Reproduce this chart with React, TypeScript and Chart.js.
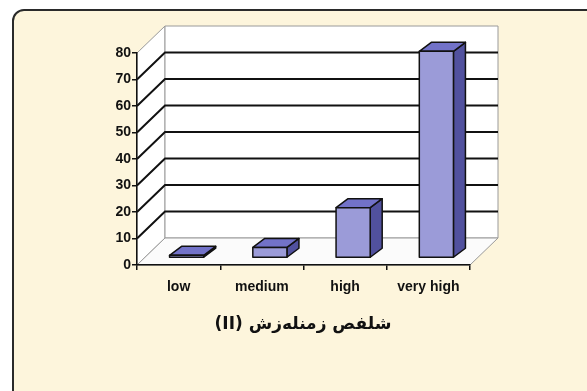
import React, { useEffect, useRef } from 'react';
import { Chart, registerables } from 'chart.js';
Chart.register(...registerables);

const categories = ['low', 'medium', 'high', 'very high'];
const values = [1, 4, 19, 78];
const yMin = 0;
const yMax = 80;
const yStep = 10;
const titleText = 'شلفص زمنلەزش (II)';

export default function App() {
  const ref = useRef<HTMLCanvasElement>(null);
  useEffect(() => {
    const canvas = ref.current!;
    const DX = 28, DY = -27;
    const BX = 8, BY = -7, BDX = 12, BDY = -9;
    const deco = {
      id: 'deco',
      beforeDraw(chart: any) {
        const { ctx, chartArea: a, scales } = chart;
        const y = scales.y;
        ctx.save();
        ctx.fillStyle = '#ffffff';
        ctx.fillRect(0, 0, chart.width, chart.height);
        ctx.beginPath();
        ctx.roundRect(13, 10, 600, 400, 11);
        ctx.fillStyle = '#fdf5dc';
        ctx.fill();
        ctx.lineWidth = 2;
        ctx.strokeStyle = '#2a2a2a';
        ctx.stroke();

        const L = a.left, R = a.right;
        const T = y.getPixelForValue(yMax), B = y.getPixelForValue(yMin);
        const poly = (pts: number[][], fill: string) => {
          ctx.beginPath();
          ctx.moveTo(pts[0][0], pts[0][1]);
          for (let i = 1; i < pts.length; i++) ctx.lineTo(pts[i][0], pts[i][1]);
          ctx.closePath();
          ctx.fillStyle = fill;
          ctx.fill();
          ctx.lineWidth = 1;
          ctx.strokeStyle = '#9a9a9a';
          ctx.stroke();
        };
        poly([[L, B], [L + DX, B + DY], [L + DX, T + DY], [L, T]], '#ffffff');
        poly([[L + DX, B + DY], [R + DX, B + DY], [R + DX, T + DY], [L + DX, T + DY]], '#ffffff');
        poly([[L, B], [R, B], [R + DX, B + DY], [L + DX, B + DY]], '#fbfbfb');

        ctx.strokeStyle = '#111111';
        ctx.lineWidth = 2;
        for (let v = yMin + yStep; v < yMax; v += yStep) {
          const py = y.getPixelForValue(v);
          ctx.beginPath();
          ctx.moveTo(L, py);
          ctx.lineTo(L + DX, py + DY);
          ctx.lineTo(R + DX, py + DY);
          ctx.stroke();
        }
        ctx.restore();
      },
      afterDatasetsDraw(chart: any) {
        const { ctx } = chart;
        const meta = chart.getDatasetMeta(0);
        ctx.save();
        ctx.lineWidth = 1.5;
        ctx.strokeStyle = '#111111';
        ctx.lineJoin = 'round';
        meta.data.forEach((el: any) => {
          const x0 = el.x - el.width / 2 + BX;
          const x1 = el.x + el.width / 2 + BX;
          const top = el.y + BY;
          const bot = el.base + BY;
          const face = (pts: number[][], fill: string) => {
            ctx.beginPath();
            ctx.moveTo(pts[0][0], pts[0][1]);
            for (let i = 1; i < pts.length; i++) ctx.lineTo(pts[i][0], pts[i][1]);
            ctx.closePath();
            ctx.fillStyle = fill;
            ctx.fill();
            ctx.stroke();
          };
          face([[x1, bot], [x1 + BDX, bot + BDY], [x1 + BDX, top + BDY], [x1, top]], '#51519e');
          face([[x0, top], [x1, top], [x1 + BDX, top + BDY], [x0 + BDX, top + BDY]], '#7272c8');
          face([[x0, top], [x1, top], [x1, bot], [x0, bot]], '#9b9bd8');
        });
        ctx.restore();
      },
      afterDraw(chart: any) {
        const { ctx } = chart;
        ctx.save();
        ctx.direction = 'rtl';
        ctx.textAlign = 'center';
        ctx.textBaseline = 'middle';
        ctx.fillStyle = '#111111';
        ctx.font = 'bold 17px "DejaVu Sans"';
        ctx.fillText(titleText, 303, 325);
        ctx.restore();
      },
    };

    const chart = new Chart(canvas, {
      type: 'bar',
      data: {
        labels: categories,
        datasets: [
          {
            data: values,
            backgroundColor: 'rgba(0,0,0,0)',
            borderWidth: 0,
            barPercentage: 0.41,
            categoryPercentage: 1,
          },
        ],
      },
      options: {
        responsive: false,
        animation: false,
        events: [],
        layout: { padding: { top: 53, right: 117, left: 0, bottom: 0 } },
        plugins: { legend: { display: false }, tooltip: { enabled: false }, title: { display: false } },
        scales: {
          x: {
            afterFit: (s: any) => { s.height = 126; },
            grid: { display: true, drawOnChartArea: false, tickLength: 5, color: '#111', lineWidth: 1.5, offset: true },
            border: { display: true, color: '#111', width: 1.5 },
            ticks: { color: '#111', padding: 9, font: { family: '"Liberation Sans"', size: 14, weight: 'bold' } },
          },
          y: {
            min: yMin,
            max: yMax,
            afterFit: (s: any) => { s.width = 137; },
            grid: { display: true, drawOnChartArea: false, tickLength: 5, color: '#111', lineWidth: 1.5 },
            border: { display: true, color: '#111', width: 1.5 },
            ticks: { stepSize: yStep, color: '#111', padding: 1, font: { family: '"Liberation Sans"', size: 14, weight: 'bold' } },
          },
        },
      },
      plugins: [deco],
    } as any);
    return () => chart.destroy();
  }, []);
  return (
    <div style={{ position: 'fixed', left: 0, top: 0, width: 587, height: 391 }}>
      <canvas ref={ref} width={587} height={391} style={{ display: 'block', width: 587, height: 391 }} />
    </div>
  );
}
